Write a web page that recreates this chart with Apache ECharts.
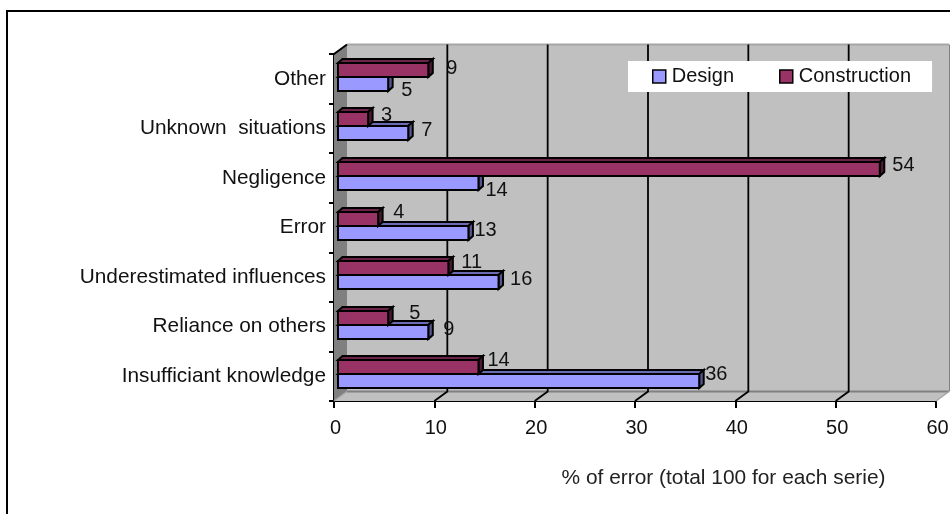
<!DOCTYPE html>
<html><head><meta charset="utf-8">
<style>html,body{margin:0;padding:0;background:#fff}#c{width:950px;height:514px}</style>
<script src="https://cdn.jsdelivr.net/npm/echarts@6/dist/echarts.min.js"></script></head>
<body><div id="c"></div>
<script>
const categories=['Insufficiant knowledge','Reliance on others','Underestimated influences','Error','Negligence','Unknown  situations','Other'];
const design=[36,9,16,13,14,7,5];
const construction=[14,5,11,4,54,3,9];
const xTicks=[0,10,20,30,40,50,60];
// per-label nudges [dx,dy] from the bar end
const designNudge=[[6,-6.6],[15,-3],[11.5,-3],[6,-2.4],[7,7],[13,-3],[13,6]];
const constructionNudge=[[9,-6.6],[21,-5],[13,-6],[15,-7],[12.5,-3.7],[13,-4],[18,-2]];
const DX=13,DY=-9.5,BX=4.5,BY=-4,FONT='Liberation Sans, Arial, sans-serif';
const chart=echarts.init(document.getElementById('c'),null,{renderer:'canvas'});
function poly(points,fill,lw){return {type:'polygon',shape:{points},style:{fill,stroke:lw?'#000':null,lineWidth:lw||0}};}
function wallItem(p,api){
  const half=api.size([0,1])[1]/2;
  const yb=api.coord([0,0])[1]+half,yt=api.coord([0,6])[1]-half;
  const xl=api.coord([0,0])[0],xr=api.coord([60,0])[0];
  const a=[xl,yb],b=[xr,yb],c=[xr,yt],d=[xl,yt];
  const o=(q)=>[q[0]+DX,q[1]+DY];
  const ch=[
    poly([a,o(a),o(d),d],'#808080'),
    poly([o(a),o(b),o(c),o(d)],'#c0c0c0'),
    poly([a,b,o(b),o(a)],'#c0c0c0'),
    {type:'polygon',shape:{points:[o(b),[o(b)[0]+4,o(b)[1]],[o(c)[0]+4,o(c)[1]],o(c)]},style:{fill:'#808080'}},
    {type:'polyline',shape:{points:[o(d),o(c)]},style:{stroke:'#a6a6a6',lineWidth:2,fill:null}},
    {type:'polyline',shape:{points:[o(a),o(b)]},style:{stroke:'#808080',lineWidth:2,fill:null}},
    {type:'polyline',shape:{points:[a,o(a)]},style:{stroke:'#a6a6a6',lineWidth:1.5,fill:null}},
    {type:'polyline',shape:{points:[b,o(b)]},style:{stroke:'#a6a6a6',lineWidth:1.5,fill:null}},
    {type:'polyline',shape:{points:[[xl-5,yt],d,o(d)]},style:{stroke:'#000',lineWidth:2,fill:null}}
  ];
  xTicks.slice(1,-1).forEach(t=>{
    const x=api.coord([t,0])[0];
    const f=[x,yb],g=[x,yt];
    ch.push({type:'polyline',shape:{points:[f,o(f),o(g)]},style:{stroke:'#000',lineWidth:1.8,fill:null}});
  });
  return {type:'group',children:ch};
}
function barItem(top,h,face,topc,side,nudges){
  return function(p,api){
    const v=api.value(0),cat=api.value(1),idx=p.dataIndex;
    const c=api.coord([v,cat]),z=api.coord([0,cat]);
    const x0=z[0]+4,x1=c[0]+4,y0=Math.round(c[1])+top,y1=y0+h;
    const n=nudges[idx];
    return {type:'group',children:[
      poly([[x0,y0],[x0+BX,y0+BY],[x1+BX,y0+BY],[x1,y0]],topc,2),
      poly([[x1,y0],[x1+BX,y0+BY],[x1+BX,y1+BY],[x1,y1]],side,2),
      poly([[x0,y0],[x1,y0],[x1,y1],[x0,y1]],face,2),
      {type:'text',style:{text:String(v),x:x1+n[0],y:(y0+y1)/2+n[1],font:'20px '+FONT,fill:'#111',align:'left',verticalAlign:'middle'}}
    ]};
  };
}
function seriesData(vals){return vals.map((v,i)=>[v,i]);}
chart.setOption({
  animation:false,
  grid:{left:334,top:54,width:602,height:347,containLabel:false,outerBoundsMode:'none'},
  graphic:[{type:'rect',z:-1,shape:{x:7,y:11,width:950,height:520},style:{fill:'#fff',stroke:'#000',lineWidth:2}}],
  legend:{show:true,left:628,top:61,itemGap:45,itemWidth:13,itemHeight:13,padding:[5.5,21,5.5,24],backgroundColor:'#fff',
    data:[{name:'Design',icon:'rect',itemStyle:{color:'#9999ff',borderColor:'#000',borderWidth:1.5}},{name:'Construction',icon:'rect',itemStyle:{color:'#993366',borderColor:'#000',borderWidth:1.5}}],
    textStyle:{fontFamily:FONT,fontSize:20,color:'#111',padding:[0,0,0,1]}},
  xAxis:{type:'value',min:0,max:60,interval:10,name:'% of error (total 100 for each serie)',nameLocation:'middle',nameGap:67,
    nameTextStyle:{fontFamily:FONT,fontSize:20.9,color:'#222',padding:[0,0,0,177]},
    axisLine:{show:true,onZero:false,lineStyle:{color:'#000',width:2}},axisTick:{show:true,length:7,lineStyle:{color:'#000',width:2}},
    axisLabel:{fontFamily:FONT,fontSize:20,color:'#111',margin:17,padding:[0,0,0,3]},splitLine:{show:false}},
  yAxis:{type:'category',data:categories,boundaryGap:true,
    axisLine:{show:true,onZero:false,lineStyle:{color:'#000',width:2}},axisTick:{show:true,length:5,lineStyle:{color:'#000',width:2}},
    axisLabel:{fontFamily:FONT,fontSize:20.8,color:'#111',margin:8,padding:[3,0,0,0]},splitLine:{show:false}},
  series:[
    {type:'custom',name:'wall',data:[[0,0]],encode:{x:0,y:1},renderItem:wallItem,z:1,silent:true,clip:false},
    {type:'custom',name:'Design',data:seriesData(design),encode:{x:0,y:1},itemStyle:{color:'#9999ff'},z:3,silent:true,clip:false,
      renderItem:barItem(-2,14,'#9999ff','#6b6bb3','#565690',designNudge)},
    {type:'custom',name:'Construction',data:seriesData(construction),encode:{x:0,y:1},itemStyle:{color:'#993366'},z:4,silent:true,clip:false,
      renderItem:barItem(-16,14,'#993366','#6b2447','#4d1a33',constructionNudge)}
  ]
});
</script></body></html>
